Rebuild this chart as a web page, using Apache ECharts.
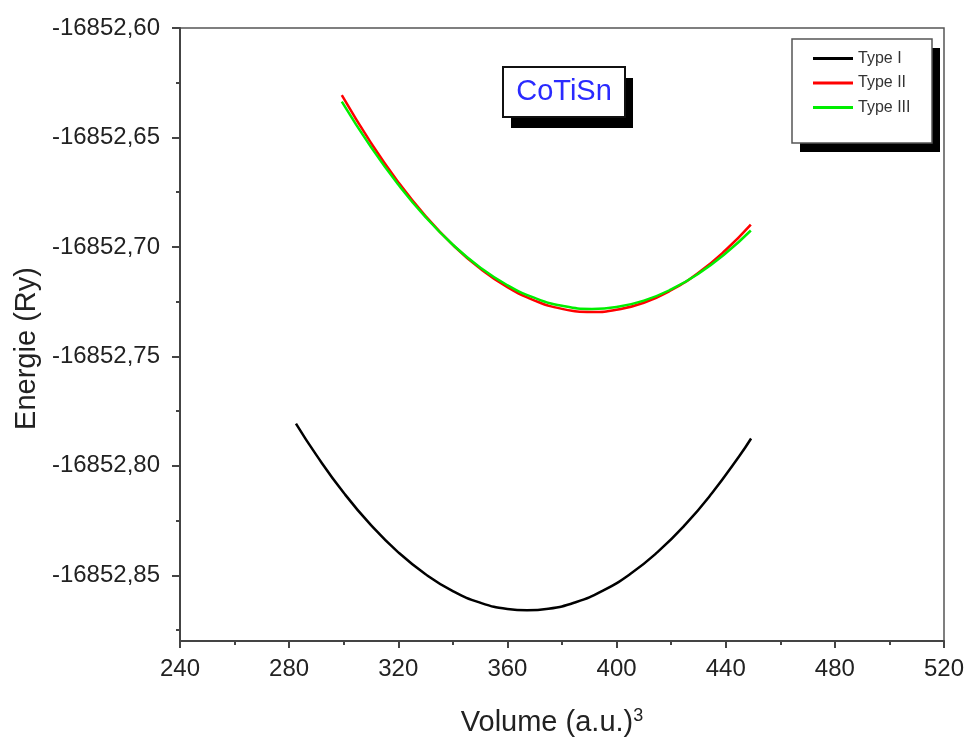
<!DOCTYPE html>
<html>
<head>
<meta charset="utf-8">
<script src="https://cdn.jsdelivr.net/npm/echarts@6/dist/echarts.min.js"></script>
<style>html,body{margin:0;padding:0;background:#fff}#c{width:967px;height:740px}</style>
</head>
<body>
<div id="c"></div>
<script>
// ---- data ----
const volI = [282.5, 290, 300, 310, 320, 330, 340, 350, 360, 367.2, 375, 385, 395, 405, 415, 425, 435, 445, 449.3];
const energyI = [-16852.7807, -16852.7951, -16852.8123, -16852.8271, -16852.8395, -16852.8495, -16852.8572, -16852.8625, -16852.8654, -16852.8660, -16852.8653, -16852.8623, -16852.8570, -16852.8494, -16852.8394, -16852.8271, -16852.8124, -16852.7955, -16852.7875];

const volII = [299.3, 310, 320, 330, 340, 350, 360, 370, 380, 391, 400, 410, 420, 430, 440, 449.2];
const energyII = [-16852.6307, -16852.6525, -16852.6704, -16852.6859, -16852.6991, -16852.7099, -16852.7184, -16852.7245, -16852.7283, -16852.7297, -16852.7287, -16852.7255, -16852.7198, -16852.7118, -16852.7014, -16852.6898];

const volIII = [299.3, 310, 320, 330, 340, 350, 360, 370, 380, 391, 400, 410, 420, 430, 440, 449.2];
const energyIII = [-16852.6336, -16852.6544, -16852.6715, -16852.6864, -16852.6990, -16852.7094, -16852.7175, -16852.7233, -16852.7269, -16852.7283, -16852.7274, -16852.7245, -16852.7194, -16852.7122, -16852.7029, -16852.6925];

const seriesNames = ['Type I', 'Type II', 'Type III'];
const yMajorTicks = [-16852.85, -16852.80, -16852.75, -16852.70, -16852.65, -16852.60];
const yMinorTicks = [-16852.875, -16852.825, -16852.775, -16852.725, -16852.675, -16852.625];
const xTitle = 'Volume (a.u.)';
const yTitle = 'Energie (Ry)';
const compound = 'CoTiSn';

function zip(a, b) { return a.map((v, i) => [v, b[i]]); }

const FONT = 'Liberation Sans, Arial, sans-serif';
const chart = echarts.init(document.getElementById('c'), null, {renderer: 'canvas'});

const option = {
  backgroundColor: '#fff',
  animation: false,
  grid: {left: 180, top: 28, right: 23, bottom: 99, outerBoundsMode: 'none', containLabel: false,
    show: true, borderColor: '#555', borderWidth: 1.5, backgroundColor: 'transparent'},
  xAxis: {
    type: 'value', min: 240, max: 520, interval: 40,
    axisLine: {show: true, lineStyle: {color: '#444', width: 2}},
    axisTick: {show: true, length: 7, lineStyle: {color: '#444', width: 2}},
    minorTick: {show: true, splitNumber: 2, length: 4, lineStyle: {color: '#444', width: 2}},
    splitLine: {show: false},
    axisLabel: {fontSize: 24, color: '#222', fontFamily: FONT, margin: 16},
    name: xTitle + '{sup|3}', nameLocation: 'middle', nameGap: 66,
    nameTextStyle: {fontSize: 29, color: '#222', fontFamily: FONT, padding: [0, 20, 0, 0],
      rich: {sup: {fontSize: 18, color: '#222', fontFamily: FONT, verticalAlign: 'top', padding: [0, 0, 14, 0]}}}
  },
  yAxis: [{
    type: 'value', min: -16852.88, max: -16852.60,
    axisLine: {show: true, lineStyle: {color: '#444', width: 2}},
    axisTick: {show: true, length: 8, customValues: yMajorTicks, lineStyle: {color: '#444', width: 2}},
    splitLine: {show: false},
    axisLabel: {fontSize: 24, color: '#222', fontFamily: FONT, margin: 20, customValues: yMajorTicks,
      formatter: v => v.toFixed(2).replace('.', ',')},
    name: yTitle, nameLocation: 'middle', nameGap: 137, nameRotate: 90,
    nameTextStyle: {fontSize: 29, color: '#222', fontFamily: FONT, padding: [0, 28, 0, 0]}
  }, {
    type: 'value', min: -16852.88, max: -16852.60, position: 'left', offset: 0,
    axisLine: {show: false},
    axisTick: {show: true, length: 4, customValues: yMinorTicks, lineStyle: {color: '#444', width: 2}},
    axisLabel: {show: false},
    splitLine: {show: false}
  }],
  legend: {
    orient: 'vertical', left: 813, top: 50, padding: 0, itemGap: 7.5,
    itemWidth: 40, itemHeight: 3, icon: 'rect', z: 100,
    textStyle: {fontSize: 16, color: '#333', fontFamily: FONT, lineHeight: 17},
    data: seriesNames
  },
  graphic: [
    {type: 'rect', z: 50, shape: {x: 800, y: 48, width: 140, height: 104}, style: {fill: '#000'}},
    {type: 'rect', z: 51, shape: {x: 792, y: 39, width: 140, height: 104}, style: {fill: '#fff', stroke: '#555', lineWidth: 1.5}},
    {type: 'rect', z: 50, shape: {x: 511, y: 78, width: 122, height: 50}, style: {fill: '#000'}},
    {type: 'rect', z: 51, shape: {x: 503, y: 67, width: 122, height: 50}, style: {fill: '#fff', stroke: '#111', lineWidth: 2}},
    {type: 'text', z: 52, x: 564, y: 92, style: {text: compound, fill: '#2a2aff', font: '29px ' + FONT, align: 'center', verticalAlign: 'middle'}}
  ],
  series: [
    {name: seriesNames[0], type: 'line', smooth: true, showSymbol: false, data: zip(volI, energyI), lineStyle: {color: '#000', width: 2.5}, itemStyle: {color: '#000'}, z: 3},
    {name: seriesNames[1], type: 'line', smooth: true, showSymbol: false, data: zip(volII, energyII), lineStyle: {color: '#ff0000', width: 2.5}, itemStyle: {color: '#ff0000'}, z: 4},
    {name: seriesNames[2], type: 'line', smooth: true, showSymbol: false, data: zip(volIII, energyIII), lineStyle: {color: '#00ee00', width: 2.5}, itemStyle: {color: '#00ee00'}, z: 5}
  ]
};
chart.setOption(option);
</script>
</body>
</html>
